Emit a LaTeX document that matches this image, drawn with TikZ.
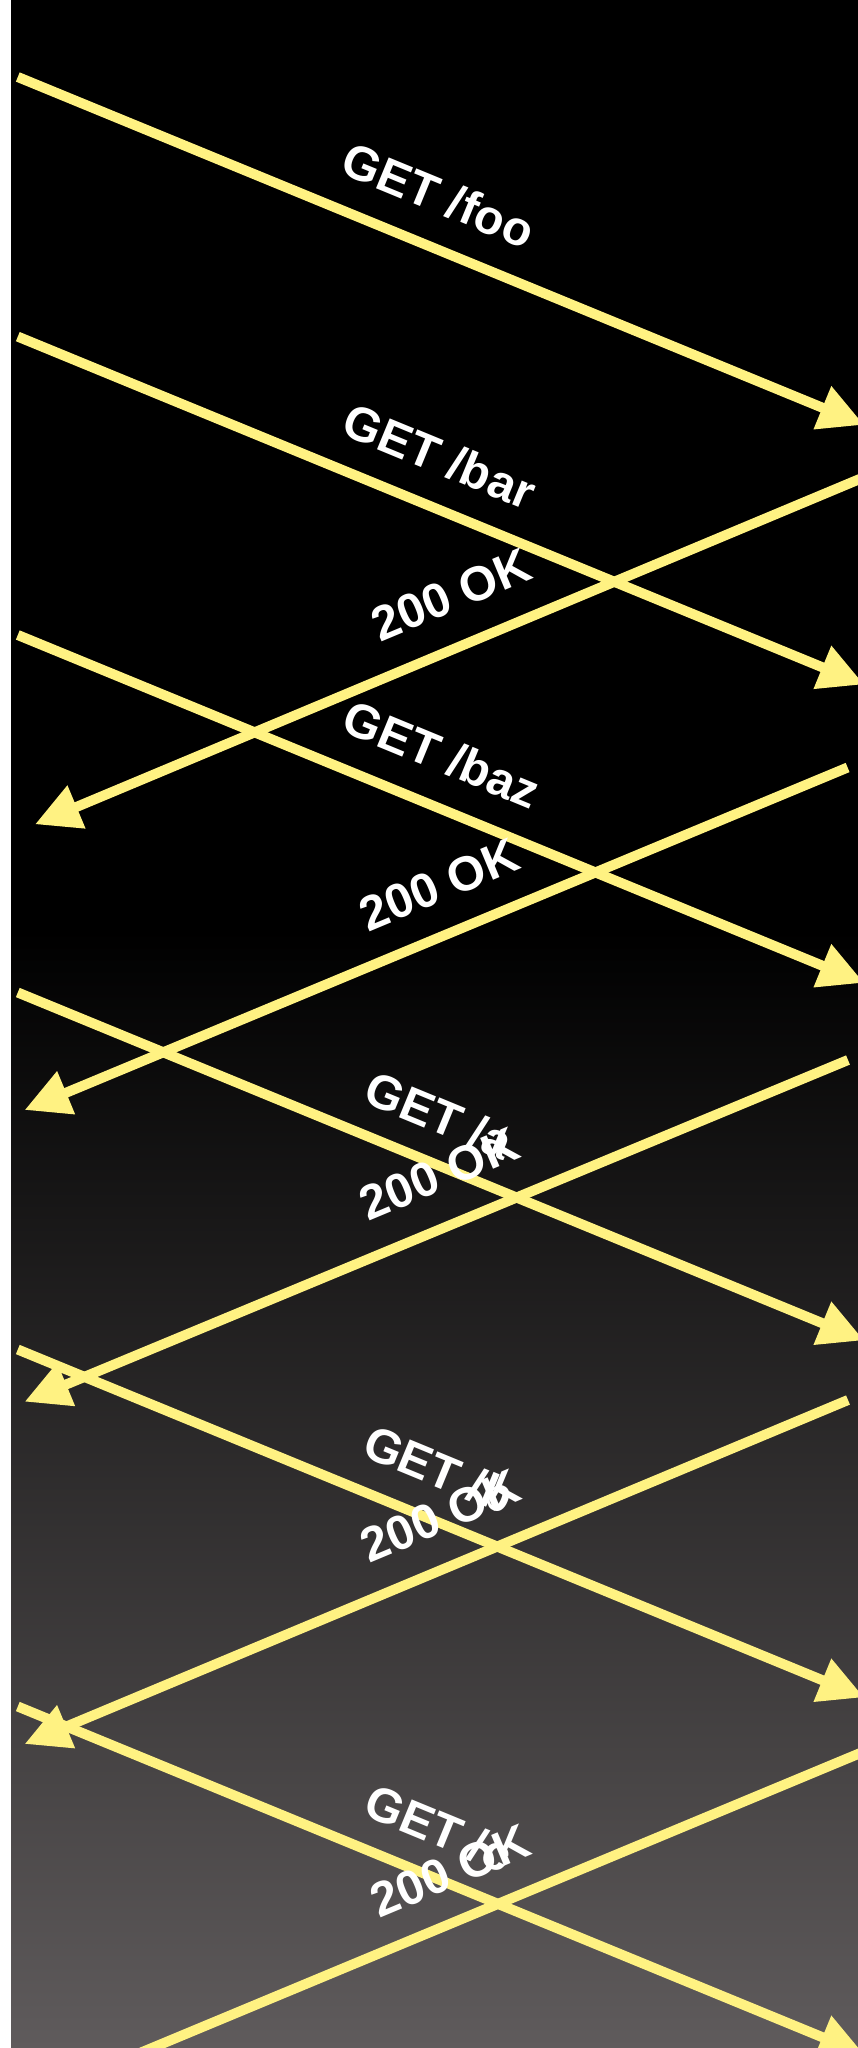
\documentclass[tikz,border=0pt]{standalone}
\usepackage{fontspec}
\setmainfont{Liberation Sans}
\usetikzlibrary{arrows.meta}
\definecolor{msgyellow}{RGB}{255,242,130}
\definecolor{bgbottom}{RGB}{95,91,92}
\begin{document}
\begin{tikzpicture}[x=1pt,y=-1pt,
  msg/.style={draw=msgyellow, line width=10pt, -{Triangle[length=45pt,width=44pt]}},
  lbl/.style={text=white, inner sep=0pt, font=\fontsize{48.5}{48.5}\selectfont\bfseries,
              text height=35pt, text depth=0pt},
  req/.style={lbl, rotate=-22.4},
  resp/.style={lbl, rotate=22.7}]
\useasboundingbox (0,0) rectangle (858,2048);
\clip (0,0) rectangle (858,2048);

% backdrop: white margin, black top, fading to grey at the bottom
\fill[white] (0,0) rectangle (11,2048);
\fill[black] (11,0) rectangle (858,931);
\shade[top color=black, bottom color=bgbottom] (11,930) rectangle (858,2048);

% request end points (client on the left, server on the right)
\coordinate (q1s) at (17.8,77);     \coordinate (q1e) at (864,424.8);
\coordinate (q2s) at (17.8,336.6);  \coordinate (q2e) at (864,684.4);
\coordinate (q3s) at (17.8,635);    \coordinate (q3e) at (864,982.8);
\coordinate (q4s) at (17.8,992.5);  \coordinate (q4e) at (864,1340.3);
\coordinate (q5s) at (17.8,1349.5); \coordinate (q5e) at (864,1697.3);
\coordinate (q6s) at (17.8,1706.5); \coordinate (q6e) at (864,2054.3);

% response end points
\coordinate (r1s) at (870,474.7);   \coordinate (r1e) at (35,824.3);
\coordinate (r2s) at (847.6,767.5); \coordinate (r2e) at (24.6,1110);
\coordinate (r3s) at (848,1060);    \coordinate (r3e) at (24.6,1401.7);
\coordinate (r4s) at (848,1400);    \coordinate (r4e) at (24.6,1744);
\coordinate (r5s) at (870,1749);    \coordinate (r5e) at (24.6,2101);

% requests
\draw[msg] (q1s) -- (q1e);
\draw[msg] (q2s) -- (q2e);
\draw[msg] (q3s) -- (q3e);
\draw[msg] (q4s) -- (q4e);
\draw[msg] (q5s) -- (q5e);
\draw[msg] (q6s) -- (q6e);

% responses
\draw[msg] (r1s) -- (r1e);
\draw[msg] (r2s) -- (r2e);
\draw[msg] (r3s) -- (r3e);
\draw[msg] (r4s) -- (r4e);
\draw[msg] (r5s) -- (r5e);

% labels
\node[req]  (lq1) at (439,195)  {GET /foo};
\node[req]  (lq2) at (440,456)  {GET /bar};
\node[resp] (lr1) at (451,594)  {200 OK};
\node[req]  (lq3) at (442,754)  {GET /baz};
\node[resp] (lr2) at (439,884)  {200 OK};
\node[req]  (lq4) at (439,1115) {GET /a};
\node[resp] (lr3) at (439,1173) {200 OK};
\node[req]  (lq5) at (439,1469) {GET /b};
\node[resp] (lr4) at (440,1515) {200 OK};
\node[req]  (lq6) at (439,1828) {GET /c};
\node[resp] (lr5) at (450,1870) {200 OK};
\end{tikzpicture}
\end{document}
